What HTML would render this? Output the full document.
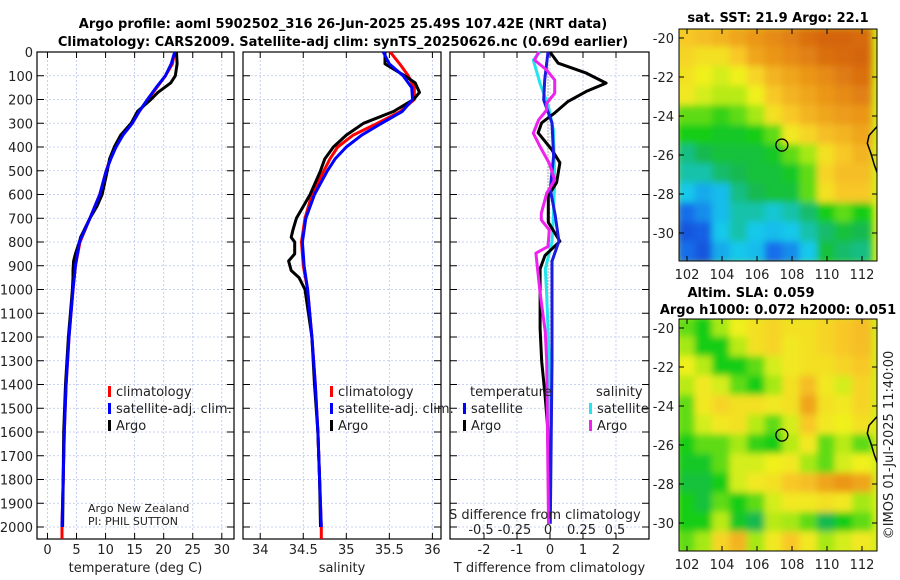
<!DOCTYPE html>
<html><head><meta charset="utf-8">
<style>
html,body{margin:0;padding:0;background:#fff;}
svg{display:block;font-family:"DejaVu Sans","Liberation Sans",sans-serif;}
.t{font-size:13px;fill:#222;}
.b{font-size:13px;font-weight:bold;fill:#000;}
</style></head>
<body>
<svg id="fig" width="900" height="580" viewBox="0 0 900 580">
<defs>
<filter id="bl" x="-5%" y="-5%" width="110%" height="110%"><feGaussianBlur stdDeviation="3.5"/></filter>
<clipPath id="c1"><rect x="679" y="29" width="198" height="232"/></clipPath>
<clipPath id="c2"><rect x="679" y="319" width="198" height="232"/></clipPath>
</defs>
<text class="b" x="343" y="28" text-anchor="middle">Argo profile: aoml 5902502_316 26-Jun-2025 25.49S 107.42E (NRT data)</text>
<text class="b" x="343" y="46" text-anchor="middle">Climatology: CARS2009. Satellite-adj clim: synTS_20250626.nc (0.69d earlier)</text>
<text class="b" x="778" y="22" text-anchor="middle">sat. SST: 21.9 Argo: 22.1</text>
<text class="b" x="751" y="297" text-anchor="middle">Altim. SLA: 0.059</text>
<text class="b" x="778" y="314" text-anchor="middle">Argo h1000: 0.072 h2000: 0.051</text>
<text class="t" transform="translate(893,445) rotate(-90)" text-anchor="middle">©IMOS 01-Jul-2025 11:40:00</text>
<g id="root"></g>
</svg>
<script>
// ---------- data ----------
const depthTicks = [0,100,200,300,400,500,600,700,800,900,1000,1100,1200,1300,1400,1500,1600,1700,1800,1900,2000];
const tempTicks = [0,5,10,15,20,25,30];
const salTicks = [34,34.5,35,35.5,36];
const tdiffTicks = [-2,-1,0,1,2];
const sdiffTicks = [-0.5,-0.25,0,0.25,0.5];
const sdiffTickLabels = ["-0.5","-0.25","0","0.25","0.5"];

const climDepth = [0,50,100,150,200,250,300,350,400,450,500,600,700,800,900,1000,1200,1400,1600,1800,2000,2050];
const tempClim  = [21.9,21.5,20.3,18.8,17.3,15.8,14.6,12.9,11.7,10.8,10.1,9.0,7.3,5.6,4.8,4.4,3.7,3.2,2.9,2.7,2.5,2.5];
const tempSat   = [21.9,21.3,20.3,18.7,17.2,15.8,14.6,13.0,11.8,10.9,10.1,9.0,7.3,5.5,4.8,4.4,3.7,3.2,2.9,2.7,2.5,2.5];
const salClim   = [35.51,35.62,35.72,35.79,35.79,35.63,35.36,35.08,34.9,34.81,34.74,34.6,34.52,34.48,34.5,34.55,34.6,34.64,34.67,34.69,34.71,34.71];
const salSat    = [35.43,35.5,35.66,35.76,35.77,35.65,35.41,35.18,35.0,34.87,34.78,34.63,34.53,34.49,34.51,34.55,34.6,34.64,34.67,34.69,34.71,34.71];

const argoDepth = [0,50,100,130,170,200,250,300,350,400,450,500,600,650,700,750,780,800,850,880,920,950,1000,1200,1400,1600,1800,2000];
const tempArgo  = [22.2,22.3,22.0,21.2,19.0,17.8,15.5,14.4,12.6,11.5,10.7,10.3,9.4,8.5,7.3,6.3,5.7,5.5,4.8,4.5,4.4,4.4,4.3,3.6,3.1,2.8,2.7,2.6];
const salArgo   = [35.45,35.45,35.68,35.8,35.85,35.78,35.55,35.2,35.0,34.85,34.75,34.7,34.58,34.5,34.42,34.38,34.36,34.4,34.4,34.33,34.36,34.45,34.52,34.6,34.63,34.67,34.69,34.7];

const dDepthA = [0,47,89,131,166,208,256,298,340,410,466,550,605,717,797,857,913,1025,1164,1303,1443,1582,1986];
const tDiffArgo = [0,0.25,1.1,1.7,1.1,0.55,0.15,-0.25,-0.36,0.05,0.3,0.2,-0.05,-0.05,0.3,-0.15,-0.3,-0.3,-0.3,-0.25,-0.15,-0.07,-0.03];
const dDepthB = [0,118,202,298,438,578,690,797,881,1025,1303,1986];
const tDiffSat = [-0.06,-0.16,-0.19,0.06,0.11,0.01,0.16,0.27,0.06,0.06,0.06,0.01];
const dDepthC = [0,34,132,230,328,539,690,801,913,1025,1303,1986];
const sDiffSat = [-0.06,-0.11,-0.06,0.004,0.04,0.05,0.04,0.03,-0.02,-0.01,0.01,0.004];
const dDepthD = [0,34,76,118,174,216,244,286,342,398,469,539,595,679,707,749,819,847,1011,1179,1303,1986];
const sDiffArgo = [-0.07,-0.1,-0.01,0.05,0.05,-0.01,-0.01,-0.07,-0.11,-0.06,0.01,0.05,-0.01,-0.05,-0.05,0.01,0.0,-0.09,-0.06,-0.02,-0.01,0.004];

const latTicks = [-20,-22,-24,-26,-28,-30];
const lonTicks = [102,104,106,108,110,112];
const gridLat = [-20,-21,-22,-23,-24,-25,-26,-27,-28,-29,-30,-31];
const gridLon = [102,103,104,105,106,107,108,109,110,111,112];
const sstGrid = [
[0.78,0.8,0.82,0.85,0.88,0.9,0.92,0.95,0.97,0.97,0.96],
[0.75,0.72,0.72,0.78,0.85,0.88,0.9,0.92,0.95,0.96,0.97],
[0.72,0.68,0.65,0.68,0.75,0.82,0.85,0.88,0.9,0.93,0.95],
[0.7,0.65,0.62,0.62,0.68,0.78,0.82,0.85,0.88,0.9,0.92],
[0.55,0.55,0.52,0.55,0.6,0.72,0.78,0.82,0.85,0.87,0.88],
[0.5,0.5,0.48,0.48,0.5,0.55,0.7,0.75,0.8,0.82,0.85],
[0.38,0.42,0.45,0.45,0.45,0.48,0.55,0.6,0.72,0.78,0.82],
[0.35,0.35,0.4,0.42,0.45,0.45,0.48,0.55,0.75,0.8,0.8],
[0.3,0.25,0.28,0.38,0.42,0.45,0.45,0.55,0.72,0.78,0.78],
[0.15,0.2,0.28,0.35,0.35,0.32,0.35,0.4,0.5,0.55,0.5],
[0.1,0.12,0.3,0.35,0.3,0.28,0.3,0.35,0.4,0.45,0.42],
[0.15,0.1,0.25,0.3,0.28,0.15,0.2,0.3,0.45,0.4,0.38]];
const slaGrid = [
[0.55,0.5,0.6,0.68,0.72,0.75,0.72,0.72,0.75,0.78,0.8],
[0.6,0.5,0.5,0.62,0.72,0.75,0.7,0.72,0.75,0.78,0.8],
[0.68,0.62,0.5,0.5,0.55,0.65,0.7,0.72,0.72,0.75,0.78],
[0.62,0.7,0.65,0.55,0.5,0.6,0.72,0.8,0.7,0.65,0.75],
[0.55,0.7,0.75,0.72,0.72,0.7,0.72,0.85,0.72,0.7,0.75],
[0.55,0.65,0.7,0.72,0.62,0.55,0.65,0.78,0.7,0.68,0.72],
[0.5,0.55,0.55,0.6,0.52,0.5,0.62,0.7,0.55,0.62,0.55],
[0.48,0.48,0.55,0.65,0.65,0.68,0.7,0.6,0.55,0.65,0.68],
[0.45,0.45,0.5,0.65,0.7,0.72,0.78,0.8,0.85,0.88,0.85],
[0.5,0.45,0.55,0.5,0.55,0.65,0.7,0.7,0.72,0.7,0.6],
[0.5,0.5,0.62,0.48,0.42,0.62,0.6,0.55,0.42,0.5,0.55],
[0.55,0.6,0.75,0.82,0.6,0.7,0.78,0.7,0.6,0.65,0.7]];
const floatLon = 107.42, floatLat = -25.49;
const coastLon = [113.2,112.8,112.4,112.3,112.5,112.7,112.9,113.2];
const coastLat = [-24.2,-24.6,-25.0,-25.4,-25.9,-26.5,-27.0,-27.6];

// ---------- helpers ----------
const NS = "http://www.w3.org/2000/svg";
const root = document.getElementById('root');
function mk(tag, attrs, parent){ const e=document.createElementNS(NS,tag); for(const k in attrs) e.setAttribute(k,attrs[k]); (parent||root).appendChild(e); return e; }
const PT=52, PB=539;
const yD = d => PT + d*(527-52)/2000;

function panel(name, x0, x1, xmin, xmax, ticks, labels, xlabel, leftLabels){
  const sx = v => x0 + (v-xmin)/(xmax-xmin)*(x1-x0);
  const g = mk('g',{});
  
  
  ticks.forEach(t=>{ const gl=mk('line',{x1:sx(t),x2:sx(t),y1:PT,y2:PB,stroke:'#b8c4ee','stroke-width':0.8,'stroke-dasharray':'2,2'},g);
      });
  depthTicks.forEach(d=>{ const gl=mk('line',{x1:x0,x2:x1,y1:yD(d),y2:yD(d),stroke:'#b8c4ee','stroke-width':0.8,'stroke-dasharray':'2,2'},g);
     
    mk('line',{x1:x0,x2:x0+7,y1:yD(d),y2:yD(d),stroke:'#000','stroke-width':1},g);
    mk('line',{x1:x1-7,x2:x1,y1:yD(d),y2:yD(d),stroke:'#000','stroke-width':1},g);
    if(leftLabels){ const tl=mk('text',{x:x0-4,y:yD(d)+5,'text-anchor':'end',class:'t'},g); tl.textContent=d;
        }
  });
  ticks.forEach((t,i)=>{
    mk('line',{x1:sx(t),x2:sx(t),y1:PB-6,y2:PB,stroke:'#000','stroke-width':1},g);
    mk('line',{x1:sx(t),x2:sx(t),y1:PT,y2:PT+6,stroke:'#000','stroke-width':1},g);
    if(labels){ const tl=mk('text',{x:sx(t),y:554,'text-anchor':'middle',class:'t'},g); tl.textContent=labels[i];
        }
  });
  if(xlabel){ const xl=mk('text',{x:(x0+x1)/2,y:572,'text-anchor':'middle',class:'t'},g); xl.textContent=xlabel;
      }
  const fr=mk('rect',{x:x0,y:PT,width:x1-x0,height:PB-PT,fill:'none',stroke:'#000','stroke-width':1.2},g);
   
  return {g,sx};
}
function line(p, xs, ds, color, w, name){
  const pts = xs.map((v,i)=>p.sx(v).toFixed(1)+','+yD(ds[i]).toFixed(1)).join(' ');
  const l = mk('polyline',{points:pts,fill:'none',stroke:color,'stroke-width':w,'stroke-linejoin':'round'},p.g);
  
  
}
function legend(g, x, y, color, label, name){
  mk('rect',{x:x,y:y-10,width:3,height:11,fill:color},g);
  const t=mk('text',{x:x+8,y:y,class:'t'},g); t.textContent=label;
  
  
}
function txt(g,x,y,s,name,size){ const t=mk('text',{x:x,y:y,class:'t'},g); if(size) t.style.fontSize=size+'px'; t.textContent=s;
  
   return t; }

// ---------- temperature panel ----------
const p1 = panel('temperature-panel',37,234,-1.8,32.1,tempTicks,tempTicks.map(String),'temperature (deg C)',true);
line(p1,tempClim,climDepth,'#ff0000',3,'temperature-climatology-line');
line(p1,tempArgo,argoDepth,'#000000',3,'temperature-argo-line');
line(p1,tempSat.slice(0,21),climDepth.slice(0,21),'#0000ff',3,'temperature-satellite-line');
legend(p1.g,108,396,'#ff0000','climatology','legend-climatology');
legend(p1.g,108,413,'#0000ff','satellite-adj. clim.','legend-satellite-adj');
legend(p1.g,108,430,'#000000','Argo','legend-argo');
txt(p1.g,88,512,'Argo New Zealand','pi-institution',11);
txt(p1.g,88,525,'PI: PHIL SUTTON','pi-name',11);

// ---------- salinity panel ----------
const p2 = panel('salinity-panel',243,441,33.8,36.1,salTicks,salTicks.map(String),'salinity',false);
line(p2,salClim,climDepth,'#ff0000',3,'salinity-climatology-line');
line(p2,salArgo,argoDepth,'#000000',3,'salinity-argo-line');
line(p2,salSat.slice(0,21),climDepth.slice(0,21),'#0000ff',3,'salinity-satellite-line');
legend(p2.g,330,396,'#ff0000','climatology','legend-climatology');
legend(p2.g,330,413,'#0000ff','satellite-adj. clim.','legend-satellite-adj');
legend(p2.g,330,430,'#000000','Argo','legend-argo');

// ---------- difference panel ----------
const p3 = panel('difference-panel',450,649,-3.03,3.0,tdiffTicks,tdiffTicks.map(String),'T difference from climatology',false);
const sS = {g:p3.g, sx: v => 548 + v*134};
mk('line',{x1:548,x2:548,y1:yD(40),y2:yD(1050),stroke:'#555','stroke-width':1,'stroke-dasharray':'1,2'},p3.g);
line(sS,sDiffSat,dDepthC,'#22e5ee',3,'salinity-diff-satellite-line');
line(p3,tDiffArgo,dDepthA,'#000000',3,'temperature-diff-argo-line');
line(p3,tDiffSat,dDepthB,'#1a1ae0',3,'temperature-diff-satellite-line');
line(sS,sDiffArgo,dDepthD,'#ee22ee',3,'salinity-diff-argo-line');
txt(p3.g,470,396,'temperature','legend-temperature-header');
txt(p3.g,596,396,'salinity','legend-salinity-header');
legend(p3.g,463,413,'#0000ff','satellite','legend-temp-satellite');
legend(p3.g,463,430,'#000000','Argo','legend-temp-argo');
legend(p3.g,589,413,'#22e5ee','satellite','legend-sal-satellite');
legend(p3.g,589,430,'#ee22ee','Argo','legend-sal-argo');
txt(p3.g,449,519,'S difference from climatology','s-axis-title');
sdiffTicks.forEach((t,i)=>{ const e=mk('text',{x:sS.sx(t),y:534,'text-anchor':'middle',class:'t'},p3.g); e.textContent=sdiffTickLabels[i];
    });

// ---------- maps ----------
function cmap(v){
  const stops=[[0,[20,40,200]],[0.15,[20,110,235]],[0.3,[20,200,235]],[0.42,[20,185,80]],[0.5,[25,205,25]],[0.6,[165,232,20]],[0.68,[240,240,30]],[0.78,[248,200,40]],[0.88,[235,150,25]],[1,[205,85,10]]];
  for(let i=1;i<stops.length;i++){ if(v<=stops[i][0]){ const a=stops[i-1],b=stops[i],f=(v-a[0])/(b[0]-a[0]);
    return 'rgb('+a[1].map((c,k)=>Math.round(c+(b[1][k]-c)*f)).join(',')+')'; } }
  return 'rgb(205,85,10)';
}
function map(name, top, grid, clip){
  const lx = lon => 687 + (lon-102)*17.5;
  const ly = lat => top + 9 + (-20-lat)*19.5;
  const g = mk('g',{});
  
  
  const cg = mk('g',{'clip-path':'url(#'+clip+')'},g);
  mk('rect',{x:679,y:top,width:198,height:232,fill:cmap(0.65)},cg);
  const bg = mk('g',{filter:'url(#bl)'},cg);
  grid.forEach((row,r)=>row.forEach((v,c)=>{
    const cell = mk('rect',{x:lx(gridLon[c])-10,y:ly(gridLat[r])-11,width:20,height:22,fill:cmap(v)},bg);
    
    
  }));
  const cpts = coastLon.map((v,i)=>lx(v).toFixed(1)+','+ly(coastLat[i]).toFixed(1)).join(' ');
  const cl = mk('polyline',{points:cpts,fill:'none',stroke:'#000','stroke-width':1.5},cg);
   
  const fc = mk('circle',{cx:lx(floatLon),cy:ly(floatLat),r:6,fill:'none',stroke:'#000','stroke-width':1.3},g);
   
  latTicks.forEach(t=>{ mk('line',{x1:679,x2:684,y1:ly(t),y2:ly(t),stroke:'#000'},g); mk('line',{x1:872,x2:877,y1:ly(t),y2:ly(t),stroke:'#000'},g);
    const e=mk('text',{x:674,y:ly(t)+5,'text-anchor':'end',class:'t'},g); e.textContent=t;
      });
  lonTicks.forEach(t=>{ mk('line',{x1:lx(t),x2:lx(t),y1:top+227,y2:top+232,stroke:'#000'},g); mk('line',{x1:lx(t),x2:lx(t),y1:top,y2:top+5,stroke:'#000'},g);
    const e=mk('text',{x:lx(t),y:top+250,'text-anchor':'middle',class:'t'},g); e.textContent=t;
      });
  mk('rect',{x:679,y:top,width:198,height:232,fill:'none',stroke:'#000','stroke-width':1},g);
}
map('sst-map',29,sstGrid,'c1');
map('sla-map',319,slaGrid,'c2');
</script>
</body></html>
